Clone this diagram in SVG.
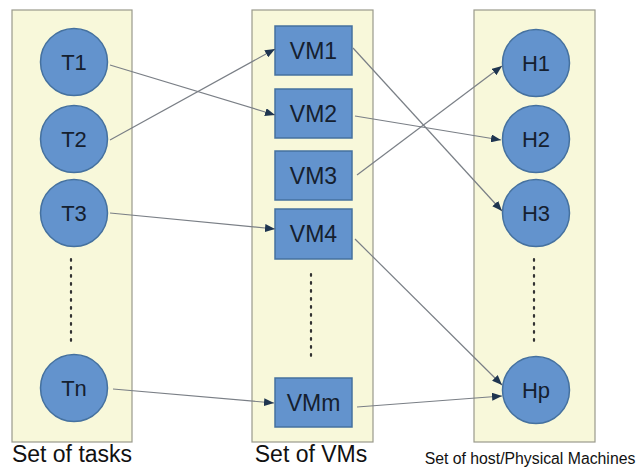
<svg xmlns="http://www.w3.org/2000/svg" width="640" height="468" viewBox="0 0 640 468">
  <style>
    .panel { fill: #f8f8da; stroke: #9a9a8c; stroke-width: 1.2; }
    .node { fill: #6393cd; stroke: #45719f; stroke-width: 1.5; }
    .lbl { font-family: "Liberation Sans", Arial, sans-serif; font-size: 22px; fill: #15202f; text-anchor: middle; dominant-baseline: central; }
    .vm { font-size: 23px; }
    .cap { font-family: "Liberation Sans", Arial, sans-serif; font-size: 23px; fill: #111; text-anchor: middle; }
    .dots { stroke: #333; stroke-width: 2.2; stroke-dasharray: 1.8 6.2; stroke-linecap: round; fill: none; }
    .edge { stroke: #7a7f86; stroke-width: 1.2; fill: none; marker-end: url(#arr); }
  </style>
  <defs>
    <marker id="arr" viewBox="0 0 10 8" refX="10" refY="4" markerWidth="10" markerHeight="8" markerUnits="userSpaceOnUse" orient="auto">
      <path d="M0,0 L10,4 L0,8 Z" fill="#1f3550"/>
    </marker>
  </defs>

  <rect width="640" height="468" fill="#ffffff"/>

  <!-- column panels -->
  <g id="panels">
    <rect class="panel" x="12" y="10" width="120" height="432"/>
    <rect class="panel" x="252" y="10" width="121" height="432"/>
    <rect class="panel" x="474" y="10" width="121" height="432"/>
  </g>

  <!-- tasks -->
  <g id="T1"><circle class="node" cx="74" cy="62" r="33.5"/><text class="lbl" x="74" y="62">T1</text></g>
  <g id="T2"><circle class="node" cx="74" cy="139" r="33.5"/><text class="lbl" x="74" y="139">T2</text></g>
  <g id="T3"><circle class="node" cx="74" cy="213" r="33.5"/><text class="lbl" x="74" y="213">T3</text></g>
  <g id="Tn"><circle class="node" cx="74" cy="388" r="33.5"/><text class="lbl" x="74" y="388">Tn</text></g>

  <!-- virtual machines -->
  <g id="VM1"><rect class="node" x="275" y="26" width="77" height="49"/><text class="lbl vm" x="313.5" y="50.5">VM1</text></g>
  <g id="VM2"><rect class="node" x="275" y="89" width="77" height="49"/><text class="lbl vm" x="313.5" y="113.5">VM2</text></g>
  <g id="VM3"><rect class="node" x="275" y="151" width="77" height="49"/><text class="lbl vm" x="313.5" y="175.5">VM3</text></g>
  <g id="VM4"><rect class="node" x="275" y="209" width="77" height="50"/><text class="lbl vm" x="313.5" y="234">VM4</text></g>
  <g id="VMm"><rect class="node" x="275" y="378" width="77" height="49"/><text class="lbl vm" x="313.5" y="402.5">VMm</text></g>

  <!-- hosts -->
  <g id="H1"><circle class="node" cx="536" cy="63" r="33.5"/><text class="lbl" x="536" y="63">H1</text></g>
  <g id="H2"><circle class="node" cx="536" cy="139" r="33.5"/><text class="lbl" x="536" y="139">H2</text></g>
  <g id="H3"><circle class="node" cx="536" cy="213" r="33.5"/><text class="lbl" x="536" y="213">H3</text></g>
  <g id="Hp"><circle class="node" cx="536" cy="390" r="33.5"/><text class="lbl" x="536" y="390">Hp</text></g>

  <!-- ellipsis dots -->
  <g id="ellipses">
    <line class="dots" x1="71" y1="259" x2="71" y2="343"/>
    <line class="dots" x1="311" y1="274" x2="311" y2="358"/>
    <line class="dots" x1="534" y1="259" x2="534" y2="343"/>
  </g>

  <!-- connectors -->
  <g id="connectors">
    <line class="edge" x1="110" y1="65" x2="275" y2="115"/>
    <line class="edge" x1="110" y1="140" x2="275" y2="49"/>
    <line class="edge" x1="110" y1="213" x2="275" y2="229"/>
    <line class="edge" x1="113" y1="389" x2="274" y2="403"/>
    <line class="edge" x1="353" y1="48" x2="502" y2="211"/>
    <line class="edge" x1="355" y1="116" x2="501" y2="140"/>
    <line class="edge" x1="357" y1="175" x2="502" y2="66"/>
    <line class="edge" x1="355" y1="239" x2="502" y2="385"/>
    <line class="edge" x1="357" y1="407" x2="502" y2="396"/>
  </g>

  <!-- column captions -->
  <g id="captions">
    <text class="cap" x="72" y="462">Set of tasks</text>
    <text class="cap" x="311" y="462">Set of VMs</text>
    <text class="cap" x="530" y="464" style="font-size:15.8px">Set of host/Physical Machines</text>
  </g>
</svg>
